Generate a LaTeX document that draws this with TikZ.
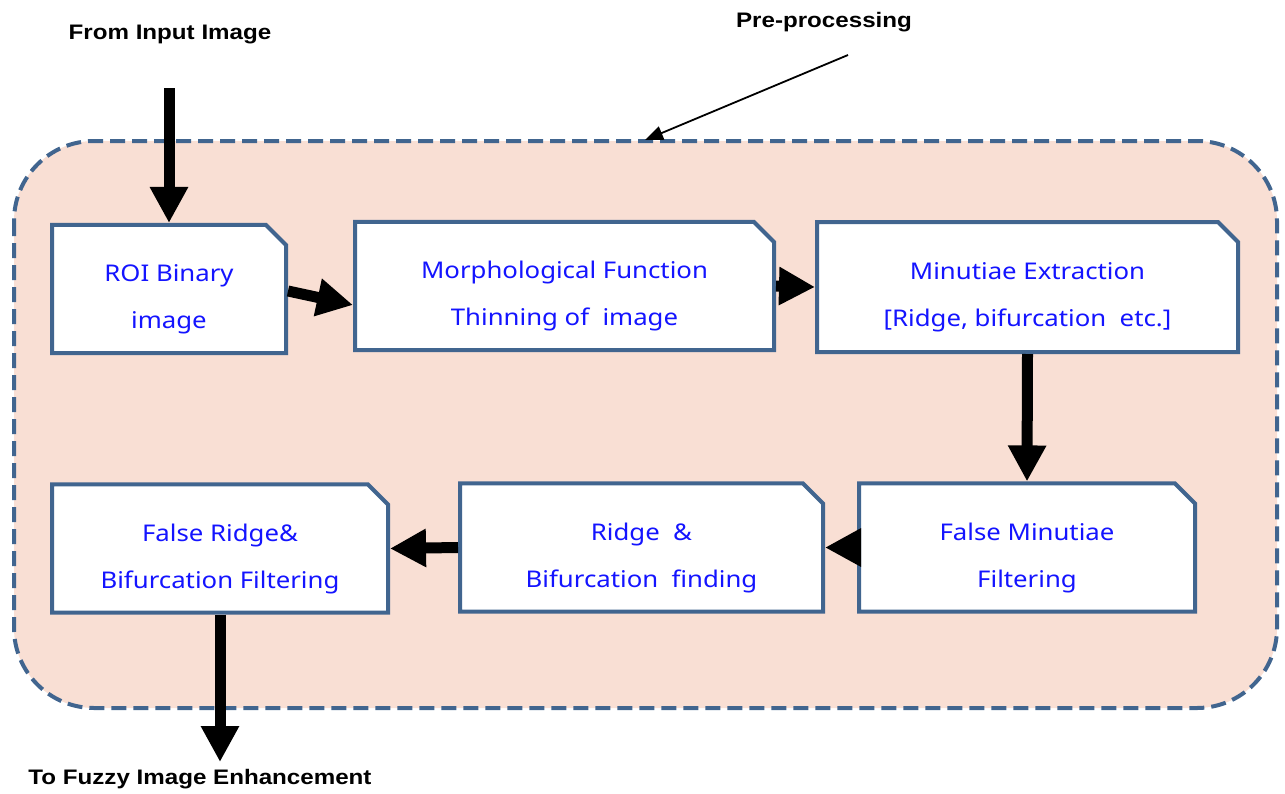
\documentclass[tikz,border=0pt]{standalone}
\usepackage{fontspec}
\usepackage{graphicx}
\setmainfont{Noto Sans}
\newfontfamily\labelfont{Liberation Sans}
\usetikzlibrary{arrows.meta,shapes.misc}
\definecolor{peach}{HTML}{F9DFD4}
\definecolor{frameblue}{HTML}{41658F}
\definecolor{txtblue}{HTML}{1414FF}
\newcommand{\twoline}[2]{\scalebox{1.12}[1]{\fontsize{23}{47}\selectfont\begin{tabular}{@{}c@{}}\rule{0pt}{47pt}#1\\#2\end{tabular}}}
\newcommand{\boldlbl}[1]{\scalebox{1.15}[1]{#1}}
\tikzset{
  stepbox/.style={chamfered rectangle, chamfered rectangle corners=north east,
    chamfered rectangle xsep=10pt, chamfered rectangle ysep=10pt,
    draw=frameblue, line width=4pt, fill=white, inner sep=0pt,
    text=txtblue, align=center},
  bigarrow/.style={line width=11pt, -{Triangle[length=36pt,width=36pt]}},
  lbl/.style={font=\labelfont\bfseries\fontsize{21}{24}\selectfont, text=black}
}
\begin{document}
\begin{tikzpicture}[x=1pt,y=-1pt]
\useasboundingbox (0,0) rectangle (1285,793);
\draw[fill=peach, draw=frameblue, line width=4pt, dash pattern=on 15pt off 7pt, rounded corners=80pt] (14,141) rectangle (1277,708);

\node[stepbox, minimum width=234pt, minimum height=122pt] (roi) at (169,289) {\twoline{ROI Binary}{image}};
\node[stepbox, minimum width=419pt, minimum height=128pt] (mor) at (564.5,286) {\twoline{Morphological Function}{Thinning of\ \ image}};
\node[stepbox, minimum width=421pt, minimum height=130pt] (mex) at (1027.5,287) {\twoline{Minutiae Extraction}{{[}Ridge, bifurcation\ \ etc.]}};
\node[stepbox, minimum width=336pt, minimum height=127pt] (frb) at (220,548.5) {\twoline{False Ridge\&}{Bifurcation Filtering}};
\node[stepbox, minimum width=363pt, minimum height=125pt] (rbf) at (641.5,547.5) {\twoline{Ridge\ \ \&}{Bifurcation\ \ finding}};
\node[stepbox, minimum width=336pt, minimum height=125pt] (fmf) at (1027,547.5) {\twoline{False Minutiae}{Filtering}};

\node[lbl] (fromlbl) at (170,34) {\boldlbl{From Input Image}};
\node[lbl] (prelbl) at (824,22) {\boldlbl{Pre-processing}};
\node[lbl] (tolbl) at (200,779) {\boldlbl{To Fuzzy Image Enhancement}};

\coordinate (in) at (169,88);
\coordinate (out) at (220,762);
\coordinate (prestart) at (848,55);
\coordinate (preend) at (645,140);

\draw[bigarrow] (in) -- (roi.north);
\draw[bigarrow] ([yshift=-2pt]roi.east) -- ([yshift=-19pt]mor.west);
\draw[bigarrow] (mor.east) -- (mex.west);
\draw[bigarrow] (mex.south) -- (fmf.north);
\draw[bigarrow] (fmf.west) -- (rbf.east);
\draw[bigarrow] (rbf.west) -- (frb.east);
\draw[bigarrow] (frb.south) -- (out);
\draw[line width=1.8pt, -{Triangle[length=18pt,width=14pt]}] (prestart) -- (preend);
\end{tikzpicture}
\end{document}
